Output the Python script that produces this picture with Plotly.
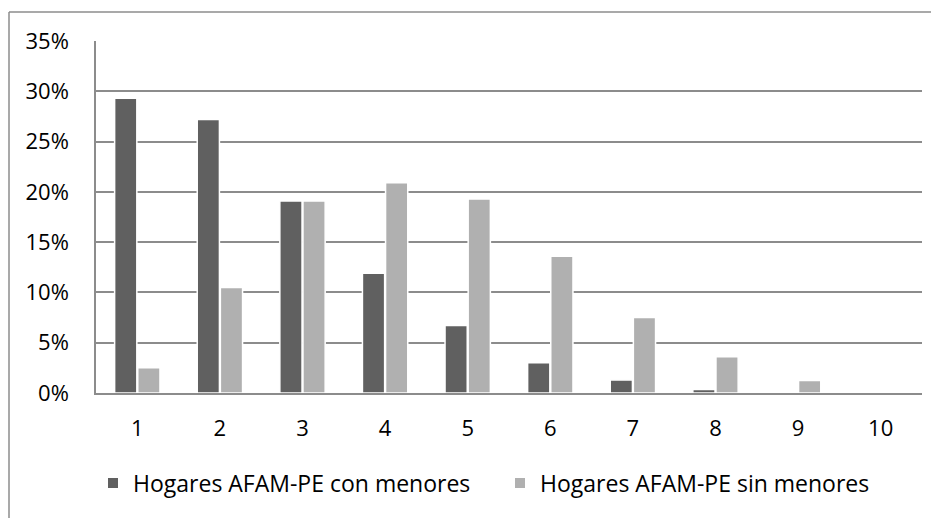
import plotly.graph_objects as go

deciles = ["1", "2", "3", "4", "5", "6", "7", "8", "9", "10"]
con_menores = [29.3, 27.2, 19.1, 11.9, 6.7, 3.0, 1.3, 0.35, 0.05, 0.0]
sin_menores = [2.5, 10.5, 19.1, 20.9, 19.3, 13.6, 7.5, 3.6, 1.25, 0.07]
y_ticks = [0, 5, 10, 15, 20, 25, 30, 35]
y_tick_labels = ["0%", "5%", "10%", "15%", "20%", "25%", "30%", "35%"]

FONT = "Open Sans"
OFF = 8  # page body margin offset
W, H = 939 - OFF, 518 - OFF
L, R, T, B = 96 - OFF, 17, 41 - OFF, 125
pw, ph = W - L - R, H - T - B

fig = go.Figure()
fig.add_trace(go.Bar(x=deciles, y=con_menores, name="Hogares AFAM-PE con menores",
                     legend="legend",
                     marker=dict(color="#606060", line=dict(color="white", width=1.5))))
fig.add_trace(go.Bar(x=deciles, y=sin_menores, name="Hogares AFAM-PE sin menores",
                     legend="legend2",
                     marker=dict(color="#b0b0b0", line=dict(color="white", width=1.5))))

# page-pixel helpers
def px_x(p):
    return (p - OFF - L) / pw

def px_y(p):
    return (T + ph - (p - OFF)) / ph

leg_common = dict(orientation="h", yanchor="middle", xanchor="left", y=px_y(483),
                  font=dict(family=FONT, size=23), itemsizing="constant",
                  bgcolor="rgba(0,0,0,0)")

fig.update_layout(
    width=W, height=H,
    margin=dict(l=L, r=R, t=T, b=B),
    paper_bgcolor="white", plot_bgcolor="white",
    font=dict(family=FONT, size=22, color="#000000"),
    barmode="group", bargap=0.44, bargroupgap=0.04,
    showlegend=True,
    legend=dict(x=px_x(93), **leg_common),
    legend2=dict(x=px_x(500), **leg_common),
    xaxis=dict(showgrid=False, showline=True, linecolor="#8c8c8c", linewidth=1.5,
               ticks="", ticklabelstandoff=15, tickfont=dict(size=22)),
    yaxis=dict(range=[0, 35], tickvals=y_ticks, ticktext=y_tick_labels,
               showgrid=True, gridcolor="#8c8c8c", gridwidth=1.5,
               showline=True, linecolor="#8c8c8c", linewidth=1.5,
               ticks="", ticklabelstandoff=21, tickfont=dict(size=22), zeroline=False),
    shapes=[
        dict(type="line", xref="paper", yref="paper", x0=px_x(9), x1=px_x(9),
             y0=px_y(540), y1=px_y(12), line=dict(color="#8c8c8c", width=1.5)),
        dict(type="line", xref="paper", yref="paper", x0=px_x(9), x1=px_x(960),
             y0=px_y(12), y1=px_y(12), line=dict(color="#8c8c8c", width=1.5)),
    ],
)

fig.write_html("out.html")
